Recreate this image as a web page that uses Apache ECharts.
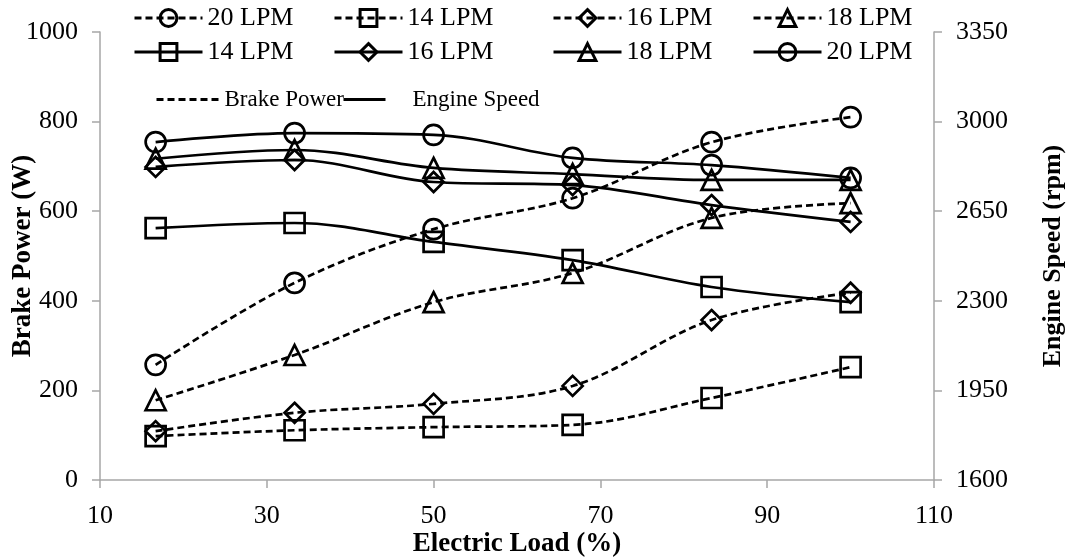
<!DOCTYPE html>
<html><head><meta charset="utf-8">
<script src="https://cdn.jsdelivr.net/npm/echarts@6/dist/echarts.min.js"></script>
<style>html,body{margin:0;padding:0;background:#fff}#c{width:1067px;height:557px}</style>
</head><body><div id="c"></div>
<script>
const xLoad = [16.67, 33.33, 50, 66.67, 83.33, 100];
const xTicks = [10, 30, 50, 70, 90, 110];
const bp20 = [257, 440, 560, 629, 754, 810];
const bp14 = [98, 111, 118, 123, 183, 252];
const bp16 = [109, 150, 170, 210, 357, 418];
const bp18 = [178, 279, 397, 462, 585, 618];
const es14 = [2584, 2604, 2530, 2459, 2354, 2295];
const es16 = [2823, 2850, 2764, 2752, 2674, 2608];
const es18 = [2855, 2889, 2819, 2795, 2772, 2772];
const es20 = [2920, 2955, 2948, 2858, 2830, 2780];

const FONT = 'Liberation Serif';
const pair = (xs, ys) => xs.map((x, i) => [x, ys[i]]);
const labels = {bp20:'20 LPM', bp14:'14 LPM', bp16:'16 LPM', bp18:'18 LPM',
  es14:'14 LPM', es16:'16 LPM', es18:'18 LPM', es20:'20 LPM',
  'Brake Power':'Brake Power', 'Engine Speed':'Engine Speed'};
const dash = [7, 4];
function mk(name, ys, sym, dashed, axis) {
  return {
    name, type: 'line', yAxisIndex: axis, data: pair(xLoad, ys),
    smooth: 0.35, symbol: sym, symbolSize: 20,
    lineStyle: {color: '#000', width: 2.7, type: dashed ? dash : 'solid'},
    itemStyle: {color: 'rgba(255,255,255,0)', borderColor: '#000', borderWidth: 2.7},
    z: 3
  };
}
const series = [
  mk('bp20', bp20, 'circle', true, 0),
  mk('bp14', bp14, 'rect', true, 0),
  mk('bp16', bp16, 'diamond', true, 0),
  mk('bp18', bp18, 'triangle', true, 0),
  mk('es14', es14, 'rect', false, 1),
  mk('es16', es16, 'diamond', false, 1),
  mk('es18', es18, 'triangle', false, 1),
  mk('es20', es20, 'circle', false, 1),
  {name:'Brake Power', type:'line', yAxisIndex:0, data:[], symbol:'none',
   lineStyle:{color:'#000', width:2.7, type:dash}, itemStyle:{color:'#000'}},
  {name:'Engine Speed', type:'line', yAxisIndex:0, data:[], symbol:'none',
   lineStyle:{color:'#000', width:2.7, type:'solid'}, itemStyle:{color:'#000'}}
];
const legLine = {width: 3, color: '#000'};
const legItem = {borderWidth: 3, borderColor: '#000', color: 'rgba(255,255,255,0)'};
const li = n => ({name: n, lineStyle: legLine, itemStyle: legItem});
const legendBase = {
  orient: 'vertical', itemWidth: 68, itemHeight: 21, itemGap: 8,
  textStyle: {fontFamily: FONT, fontSize: 26, color: '#000'},
  formatter: n => labels[n], selectedMode: false, padding: 0, top: 5
};
const hidden = {color: 'rgba(0,0,0,0)', borderColor: 'rgba(0,0,0,0)', borderWidth: 0};
const gray = '#a6a6a6';
const chart = echarts.init(document.getElementById('c'));
chart.setOption({
  animation: false,
  backgroundColor: '#fff',
  grid: {left: 100, right: 133, top: 32, bottom: 77, outerBoundsMode: 'none', containLabel: false},
  legend: [
    Object.assign({}, legendBase, {left: 133, data: [li('bp20'), li('es14')]}),
    Object.assign({}, legendBase, {left: 333, data: [li('bp14'), li('es16')]}),
    Object.assign({}, legendBase, {left: 552, data: [li('bp16'), li('es18')]}),
    Object.assign({}, legendBase, {left: 752, data: [li('bp18'), li('es20')]}),
    Object.assign({}, legendBase, {orient: 'horizontal', left: 155, top: 88, itemWidth: 63, itemGap: 4,
      textStyle: {fontFamily: FONT, fontSize: 23, color: '#000'},
      data: [{name: 'Brake Power', itemStyle: hidden, lineStyle: legLine}]}),
    Object.assign({}, legendBase, {orient: 'horizontal', left: 342, top: 88, itemWidth: 42, itemGap: 4,
      textStyle: {fontFamily: FONT, fontSize: 23, color: '#000', padding: [0, 0, 0, 22]},
      data: [{name: 'Engine Speed', itemStyle: hidden, lineStyle: legLine}]})
  ],
  xAxis: {
    type: 'value', min: 10, max: 110, interval: 20,
    name: 'Electric Load (%)', nameLocation: 'middle', nameGap: 51, nameMoveOverlap: false,
    nameTextStyle: {fontFamily: FONT, fontSize: 27, fontWeight: 'bold', color: '#000'},
    axisLine: {lineStyle: {color: gray, width: 1.5}},
    axisTick: {show: true, length: 8, lineStyle: {color: gray, width: 1.5}},
    axisLabel: {fontFamily: FONT, fontSize: 26, color: '#000', margin: 23,
      formatter: v => xTicks.includes(v) ? String(v) : ''},
    splitLine: {show: false}
  },
  yAxis: [
    {type: 'value', min: 0, max: 1000, interval: 200, position: 'left',
     name: 'Brake Power (W)', nameLocation: 'middle', nameGap: 63, nameRotate: 90, nameMoveOverlap: false,
     nameTextStyle: {fontFamily: FONT, fontSize: 27, fontWeight: 'bold', color: '#000'},
     axisLine: {show: true, lineStyle: {color: gray, width: 1.5}},
     axisTick: {show: true, length: 8, lineStyle: {color: gray, width: 1.5}},
     axisLabel: {fontFamily: FONT, fontSize: 26, color: '#000', margin: 22,
       formatter: v => String(v)},
     splitLine: {show: false}},
    {type: 'value', min: 1600, max: 3350, interval: 350, position: 'right',
     name: 'Engine Speed (rpm)', nameLocation: 'middle', nameGap: 106, nameRotate: 90, nameMoveOverlap: false,
     nameTextStyle: {fontFamily: FONT, fontSize: 26, fontWeight: 'bold', color: '#000'},
     axisLine: {show: true, lineStyle: {color: gray, width: 1.5}},
     axisTick: {show: true, length: 8, lineStyle: {color: gray, width: 1.5}},
     axisLabel: {fontFamily: FONT, fontSize: 26, color: '#000', margin: 22,
       formatter: v => String(v)},
     splitLine: {show: false}}
  ],
  series
});
</script></body></html>
